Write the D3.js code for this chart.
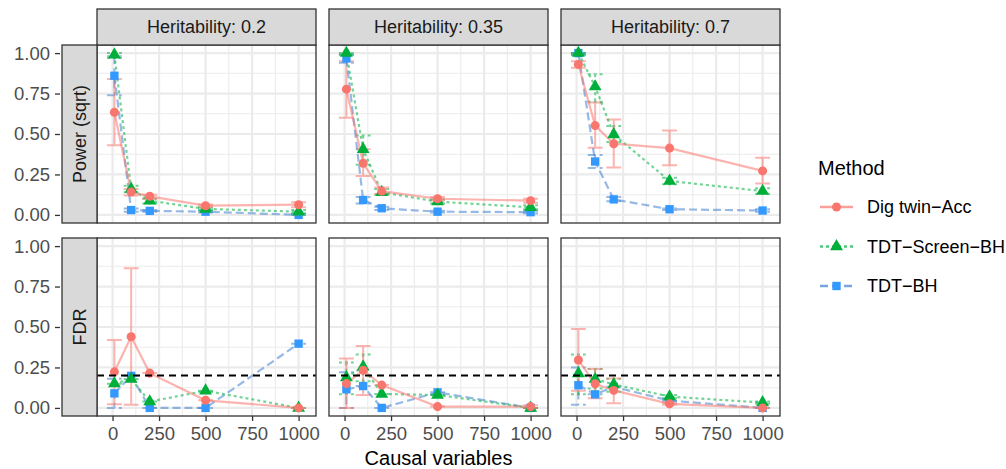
<!DOCTYPE html>
<html>
<head>
<meta charset="utf-8">
<script src="https://cdn.jsdelivr.net/npm/d3@7/dist/d3.min.js"></script>
<style>
  body { margin: 0; background: #fff; }
  svg { display: block; font-family: "Liberation Sans", Arial, Helvetica, sans-serif; }
</style>
</head>
<body>
<div id="chart"></div>
<script>
// ---- data (rows: heritability 0.2, 0.35, 0.7; columns: causal variables) ----
const causalVariables = [10, 100, 200, 500, 1000];
const heritabilities = ['0.2', '0.35', '0.7'];
const metricLabels = ['Power (sqrt)', 'FDR'];
const methodLabels = ['Dig twin\u2212Acc', 'TDT\u2212Screen\u2212BH', 'TDT\u2212BH'];
const xTicks = [0, 250, 500, 750, 1000];
const yTicks = [0, 0.25, 0.5, 0.75, 1];
const fdrLevel = 0.2;

const powerDigTwin   = [[0.634, 0.141, 0.115, 0.057, 0.063], [0.777, 0.319, 0.147, 0.100, 0.088], [0.930, 0.552, 0.440, 0.413, 0.272]];
const powerDigTwinLo = [[0.430, 0.120, 0.100, 0.050, 0.047], [0.600, 0.240, 0.130, 0.090, 0.075], [0.910, 0.415, 0.293, 0.307, 0.194]];
const powerDigTwinHi = [[0.840, 0.160, 0.125, 0.065, 0.078], [0.950, 0.405, 0.170, 0.110, 0.100], [0.950, 0.695, 0.589, 0.521, 0.354]];

const powerScreen    = [[0.990, 0.160, 0.088, 0.037, 0.020], [1.000, 0.405, 0.140, 0.082, 0.047], [1.000, 0.793, 0.497, 0.210, 0.147]];
const powerScreenLo  = [[0.970, 0.140, 0.070, 0.030, 0.010], [0.990, 0.310, 0.125, 0.070, 0.035], [0.990, 0.700, 0.450, 0.190, 0.130]];
const powerScreenHi  = [[1.000, 0.180, 0.100, 0.045, 0.030], [1.000, 0.490, 0.160, 0.095, 0.060], [1.000, 0.870, 0.550, 0.230, 0.165]];

const powerTdt       = [[0.860, 0.030, 0.025, 0.020, 0.000], [0.967, 0.092, 0.041, 0.020, 0.017], [1.000, 0.330, 0.096, 0.035, 0.027]];
const powerTdtLo     = [[0.740, 0.020, 0.020, 0.015, 0.000], [0.940, 0.070, 0.030, 0.015, 0.010], [0.990, 0.290, 0.085, 0.030, 0.020]];
const powerTdtHi     = [[0.980, 0.040, 0.030, 0.025, 0.005], [0.990, 0.110, 0.050, 0.025, 0.025], [1.000, 0.370, 0.110, 0.040, 0.035]];

const fdrDigTwin     = [[0.223, 0.440, 0.215, 0.047, 0.000], [0.150, 0.233, 0.141, 0.008, 0.008], [0.296, 0.149, 0.108, 0.025, 0.000]];
const fdrDigTwinLo   = [[0.023, 0.020, 0.215, 0.047, 0.000], [0.000, 0.080, 0.141, 0.008, 0.000], [0.106, 0.060, 0.029, 0.020, 0.000]];
const fdrDigTwinHi   = [[0.420, 0.863, 0.215, 0.047, 0.000], [0.305, 0.382, 0.141, 0.008, 0.016], [0.487, 0.240, 0.182, 0.030, 0.000]];

const fdrScreen      = [[0.150, 0.178, 0.039, 0.106, 0.000], [0.188, 0.254, 0.086, 0.080, 0.000], [0.213, 0.178, 0.145, 0.070, 0.033]];
const fdrScreenLo    = [[0.150, 0.178, 0.039, 0.106, 0.000], [0.084, 0.165, 0.086, 0.080, 0.000], [0.084, 0.120, 0.100, 0.060, 0.025]];
const fdrScreenHi    = [[0.150, 0.178, 0.039, 0.106, 0.000], [0.280, 0.330, 0.086, 0.080, 0.000], [0.330, 0.240, 0.180, 0.080, 0.040]];

const fdrTdt         = [[0.090, 0.198, 0.000, 0.000, 0.397], [0.115, 0.135, 0.000, 0.096, 0.000], [0.140, 0.084, 0.130, 0.045, 0.000]];
const fdrTdtLo       = [[0.000, 0.198, 0.000, 0.000, 0.397], [0.000, 0.135, 0.000, 0.096, 0.000], [0.020, 0.084, 0.130, 0.045, 0.000]];
const fdrTdtHi       = [[0.180, 0.198, 0.000, 0.000, 0.397], [0.220, 0.135, 0.000, 0.096, 0.000], [0.250, 0.084, 0.130, 0.045, 0.000]];

// series table: [metric][method]
const series = [
    [
        { mean: powerDigTwin, lo: powerDigTwinLo, hi: powerDigTwinHi },
        { mean: powerScreen, lo: powerScreenLo, hi: powerScreenHi },
        { mean: powerTdt, lo: powerTdtLo, hi: powerTdtHi }
    ],
    [
        { mean: fdrDigTwin, lo: fdrDigTwinLo, hi: fdrDigTwinHi },
        { mean: fdrScreen, lo: fdrScreenLo, hi: fdrScreenHi },
        { mean: fdrTdt, lo: fdrTdtLo, hi: fdrTdtHi }
    ]
];

// ---- styles ----
const methodStyle = [
    { point: '#F8766D', line: '#F8766D', dash: null,  shape: d3.symbolCircle,   size: 64 },
    { point: '#00AE3A', line: '#00B040', dash: '3,3', shape: d3.symbolTriangle, size: 72 },
    { point: '#3399FF', line: '#3F7FD0', dash: '8,4', shape: d3.symbolSquare,   size: 70 }
];
const lineOpacity = 0.55;
const errorbarWidth = 80; // in x units
const drawOrder = [2, 1, 0];

const W = 1006, H = 469;
const panelLeft = 97, panelW = 219, colGap = 13;
const panelTop = 45, panelH = 178, rowGap = 15;
const stripTop = 9, stripLeft = 62;
const tickColor = '#4D4D4D';

const svg = d3.select('#chart').append('svg')
    .attr('width', W)
    .attr('height', H);

// scales (shared by all panels)
const xMin = d3.min(causalVariables) - errorbarWidth / 2;
const xMax = d3.max(causalVariables) + errorbarWidth / 2;
const xPad = (xMax - xMin) * 0.05;
const x = d3.scaleLinear().domain([xMin - xPad, xMax + xPad]).range([0, panelW]);
const y = d3.scaleLinear().domain([-0.05, 1.05]).range([panelH, 0]);

const xMinor = d3.range(0, 1001, 125).filter(v => v % 250 !== 0);
const yMinor = d3.range(0.125, 1, 0.25);

function points(s, h) {
    return causalVariables.map((cv, i) => ({ x: cv, v: s.mean[h][i], lo: s.lo[h][i], hi: s.hi[h][i] }));
}

const line = d3.line()
    .x(d => x(d.x))
    .y(d => y(d.v));

metricLabels.forEach((metric, r) => {
    const py = panelTop + r * (panelH + rowGap);

    heritabilities.forEach((her, c) => {
        const px = panelLeft + c * (panelW + colGap);
        const g = svg.append('g').attr('transform', `translate(${px},${py})`);

        g.append('rect')
            .attr('width', panelW).attr('height', panelH)
            .attr('fill', '#fff');

        // grid
        g.selectAll('.gx-minor').data(xMinor).enter().append('line')
            .attr('x1', d => x(d)).attr('x2', d => x(d))
            .attr('y1', 0).attr('y2', panelH)
            .attr('stroke', '#EBEBEB').attr('stroke-width', 1.1);
        g.selectAll('.gy-minor').data(yMinor).enter().append('line')
            .attr('y1', d => y(d)).attr('y2', d => y(d))
            .attr('x1', 0).attr('x2', panelW)
            .attr('stroke', '#EBEBEB').attr('stroke-width', 1.1);
        g.selectAll('.gx').data(xTicks).enter().append('line')
            .attr('x1', d => x(d)).attr('x2', d => x(d))
            .attr('y1', 0).attr('y2', panelH)
            .attr('stroke', '#EBEBEB').attr('stroke-width', 2.2);
        g.selectAll('.gy').data(yTicks).enter().append('line')
            .attr('y1', d => y(d)).attr('y2', d => y(d))
            .attr('x1', 0).attr('x2', panelW)
            .attr('stroke', '#EBEBEB').attr('stroke-width', 2.2);

        // error bars
        drawOrder.forEach(m => {
            const st = methodStyle[m];
            const hw = (x(errorbarWidth) - x(0)) / 2;
            g.selectAll(null).data(points(series[r][m], c)).enter().append('path')
                .attr('d', d => `M${x(d.x) - hw},${y(d.hi)}H${x(d.x) + hw}M${x(d.x)},${y(d.hi)}V${y(d.lo)}M${x(d.x) - hw},${y(d.lo)}H${x(d.x) + hw}`)
                .attr('fill', 'none')
                .attr('stroke', st.line)
                .attr('stroke-opacity', lineOpacity)
                .attr('stroke-width', 2)
                .attr('stroke-dasharray', st.dash);
        });

        // lines
        drawOrder.forEach(m => {
            const st = methodStyle[m];
            g.append('path')
                .datum(points(series[r][m], c))
                .attr('d', line)
                .attr('fill', 'none')
                .attr('stroke', st.line)
                .attr('stroke-opacity', lineOpacity)
                .attr('stroke-width', 2.2)
                .attr('stroke-dasharray', st.dash);
        });

        // points
        drawOrder.forEach(m => {
            const st = methodStyle[m];
            g.selectAll(null).data(points(series[r][m], c)).enter().append('path')
                .attr('transform', d => `translate(${x(d.x)},${y(d.v)})`)
                .attr('d', d3.symbol().type(st.shape).size(st.size))
                .attr('fill', st.point);
        });

        // FDR target line
        if (r === 1) {
            g.append('line')
                .attr('x1', 0).attr('x2', panelW)
                .attr('y1', y(fdrLevel)).attr('y2', y(fdrLevel))
                .attr('stroke', '#000')
                .attr('stroke-width', 2)
                .attr('stroke-dasharray', '7,5');
        }

        g.append('rect')
            .attr('width', panelW).attr('height', panelH)
            .attr('fill', 'none')
            .attr('stroke', '#333333').attr('stroke-width', 1.3);

        // top strips
        if (r === 0) {
            svg.append('rect')
                .attr('x', px).attr('y', stripTop)
                .attr('width', panelW).attr('height', panelTop - stripTop)
                .attr('fill', '#D9D9D9')
                .attr('stroke', '#333333').attr('stroke-width', 1.3);
            svg.append('text')
                .attr('x', px + panelW / 2)
                .attr('y', (stripTop + panelTop) / 2)
                .attr('dy', '0.35em')
                .attr('text-anchor', 'middle')
                .attr('font-size', 18)
                .attr('fill', '#1A1A1A')
                .text('Heritability: ' + her);
        }

        // x axis on the bottom row
        if (r === metricLabels.length - 1) {
            const ax = svg.append('g')
                .attr('transform', `translate(${px},${py + panelH})`)
                .call(d3.axisBottom(x).tickValues(xTicks).tickFormat(d3.format('d')).tickSize(5).tickPadding(6));
            ax.select('.domain').remove();
            ax.selectAll('.tick line').attr('stroke', '#333333').attr('stroke-width', 1.3);
            ax.selectAll('.tick text').attr('fill', tickColor).attr('font-size', 18.5).attr('font-family', null);
        }
    });

    // left strip
    svg.append('rect')
        .attr('x', stripLeft).attr('y', py)
        .attr('width', panelLeft - stripLeft).attr('height', panelH)
        .attr('fill', '#D9D9D9')
        .attr('stroke', '#333333').attr('stroke-width', 1.3);
    svg.append('text')
        .attr('transform', `translate(${(stripLeft + panelLeft) / 2},${py + panelH / 2}) rotate(-90)`)
        .attr('dy', '0.35em')
        .attr('text-anchor', 'middle')
        .attr('font-size', 18)
        .attr('fill', '#1A1A1A')
        .text(metric);

    // y axis
    const ay = svg.append('g')
        .attr('transform', `translate(${stripLeft - 2},${py})`)
        .call(d3.axisLeft(y).tickValues(yTicks).tickFormat(d3.format('.2f')).tickSize(5).tickPadding(5));
    ay.select('.domain').remove();
    ay.selectAll('.tick line').attr('stroke', '#333333').attr('stroke-width', 1.3);
    ay.selectAll('.tick text').attr('fill', tickColor).attr('font-size', 18.5).attr('font-family', null);
});

// x axis title
const plotRight = panelLeft + 3 * panelW + 2 * colGap;
svg.append('text')
    .attr('x', (panelLeft + plotRight) / 2)
    .attr('y', 465)
    .attr('text-anchor', 'middle')
    .attr('font-size', 20)
    .attr('fill', '#000')
    .text('Causal variables');

// legend
const legend = svg.append('g').attr('transform', 'translate(818,0)');
legend.append('text')
    .attr('x', 0).attr('y', 175)
    .attr('font-size', 20)
    .attr('fill', '#000')
    .text('Method');

const legendRows = [207, 246.5, 286];
methodLabels.forEach((label, m) => {
    const st = methodStyle[m];
    const ly = legendRows[m];
    legend.append('line')
        .attr('x1', 2).attr('x2', 35)
        .attr('y1', ly).attr('y2', ly)
        .attr('stroke', st.line)
        .attr('stroke-opacity', lineOpacity + 0.15)
        .attr('stroke-width', 2.4)
        .attr('stroke-dasharray', st.dash);
    legend.append('path')
        .attr('transform', `translate(18.5,${ly})`)
        .attr('d', d3.symbol().type(st.shape).size(st.size))
        .attr('fill', st.point);
    legend.append('text')
        .attr('x', 49).attr('y', ly)
        .attr('dy', '0.35em')
        .attr('font-size', 18)
        .attr('fill', '#000')
        .text(label);
});
</script>
</body>
</html>
